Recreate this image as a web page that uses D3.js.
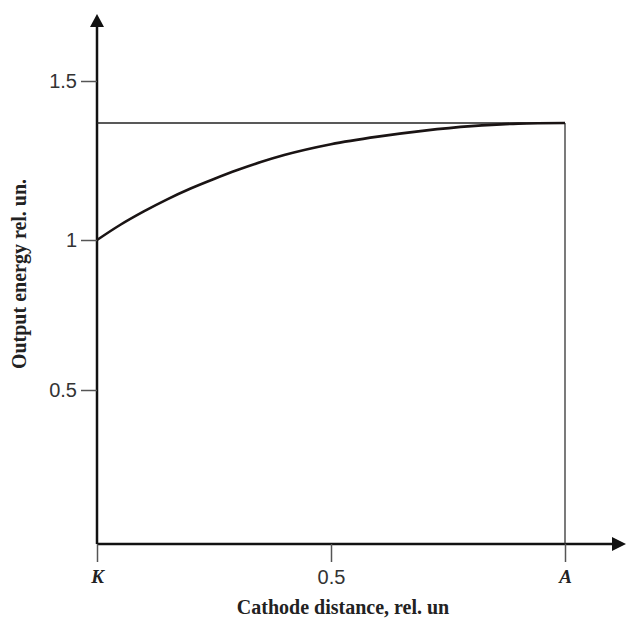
<!DOCTYPE html>
<html>
<head>
<meta charset="utf-8">
<script src="https://cdn.jsdelivr.net/npm/d3@7"></script>
<style>
  body { margin: 0; background: #fff; }
  svg { display: block; }
  .tick text { font-family: "Liberation Sans", Arial, sans-serif; font-size: 20px; fill: #333; }
  .title { font-family: "Liberation Serif", "Times New Roman", serif; font-weight: bold; font-size: 20px; fill: #222; }
</style>
</head>
<body>
<svg id="chart" width="626" height="619"></svg>
<script>
// cathode distance (rel. units) and output energy (rel. units)
var distance = [0, 0.05, 0.1, 0.15, 0.2, 0.25, 0.3, 0.35, 0.4, 0.5, 0.6, 0.7, 0.8, 0.9, 1.0];
var energy   = [1.0, 1.048, 1.090, 1.128, 1.162, 1.192, 1.220, 1.245, 1.267, 1.301, 1.325, 1.344, 1.358, 1.366, 1.368];
var maxEnergy = 1.368;

var xTicks = [0, 0.5, 1];
var xTickLabels = ["K", "0.5", "A"];
var yTicks = [0.5, 1, 1.5];
var yTickLabels = ["0.5", "1", "1.5"];

const svg = d3.select("#chart");

var x = d3.scaleLinear().domain([0, 1]).range([97, 565]);
// the printed axis is not quite even, so map through the tick positions
var y = d3.scaleLinear().domain([0, 0.5, 1, 1.5]).range([544, 390, 240, 81]);

// axes lines with arrows
svg.append("line")
  .attr("x1", x(0)).attr("x2", 615)
  .attr("y1", y(0)).attr("y2", y(0))
  .attr("stroke", "#111").attr("stroke-width", 2.5);
svg.append("path")
  .attr("d", "M626," + y(0) + " L612," + (y(0) - 7) + " L612," + (y(0) + 7) + "Z")
  .attr("fill", "#111");

svg.append("line")
  .attr("x1", x(0)).attr("x2", x(0))
  .attr("y1", y(0)).attr("y2", 24)
  .attr("stroke", "#111").attr("stroke-width", 2.5);
svg.append("path")
  .attr("d", "M" + x(0) + ",14 L" + (x(0) - 7) + ",27 L" + (x(0) + 7) + ",27Z")
  .attr("fill", "#111");

// ticks
var xAxis = d3.axisBottom(x)
  .tickValues(xTicks)
  .tickSize(18)
  .tickPadding(8)
  .tickFormat((d, i) => xTickLabels[i]);

var gx = svg.append("g")
  .attr("transform", "translate(0," + y(0) + ")")
  .call(xAxis);
gx.select(".domain").remove();
gx.selectAll(".tick line").attr("stroke", "#555").attr("stroke-width", 1.5);
gx.selectAll(".tick text")
  .style("font-family", (d, i) => (i === 1 ? null : '"Liberation Serif", "Times New Roman", serif'))
  .style("font-style", (d, i) => (i === 1 ? null : "italic"))
  .style("font-weight", (d, i) => (i === 1 ? null : "bold"))
  .style("font-size", (d, i) => (i === 1 ? null : "19px"))
  .style("fill", (d, i) => (i === 1 ? null : "#222"));

var yAxis = d3.axisLeft(y)
  .tickValues(yTicks)
  .tickSize(16)
  .tickPadding(4)
  .tickFormat((d, i) => yTickLabels[i]);

var gy = svg.append("g")
  .attr("transform", "translate(" + x(0) + ",0)")
  .call(yAxis);
gy.select(".domain").remove();
gy.selectAll(".tick line").attr("stroke", "#555").attr("stroke-width", 1.5);

// limit lines
svg.append("line")
  .attr("x1", x(0)).attr("x2", x(1))
  .attr("y1", y(maxEnergy)).attr("y2", y(maxEnergy))
  .attr("stroke", "#222").attr("stroke-width", 1.3);
svg.append("line")
  .attr("x1", x(1)).attr("x2", x(1))
  .attr("y1", y(maxEnergy)).attr("y2", y(0))
  .attr("stroke", "#333").attr("stroke-width", 1.3);

// curve
var pts = distance.map((d, i) => [d, energy[i]]);
svg.append("path")
  .datum(pts)
  .attr("fill", "none")
  .attr("stroke", "#1a1414")
  .attr("stroke-width", 2.6)
  .attr("d", d3.line().x(d => x(d[0])).y(d => y(d[1])).curve(d3.curveMonotoneX));

// titles
svg.append("text")
  .attr("class", "title")
  .attr("x", 343).attr("y", 614)
  .attr("text-anchor", "middle")
  .text("Cathode distance, rel. un");

svg.append("text")
  .attr("class", "title")
  .attr("transform", "translate(26,274) rotate(-90)")
  .attr("text-anchor", "middle")
  .text("Output energy rel. un.");
</script>
</body>
</html>
